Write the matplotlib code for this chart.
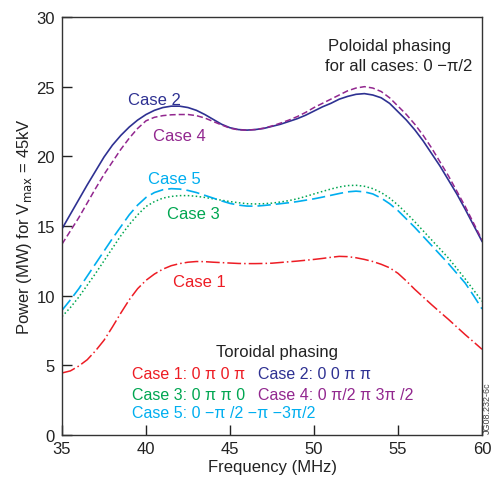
import matplotlib
matplotlib.use("Agg")
import matplotlib.pyplot as plt

plt.rcParams['font.family'] = ['Liberation Sans', 'DejaVu Sans']

freq = [35, 35.5, 36, 36.5, 37, 37.5, 38, 38.5, 39, 39.5, 40, 40.5, 41, 41.5, 42, 42.5,
        43, 43.5, 44, 44.5, 45, 45.5, 46, 46.5, 47, 47.5, 48, 48.5, 49, 49.5, 50, 50.5,
        51, 51.5, 52, 52.5, 53, 53.5, 54, 54.5, 55, 55.5, 56, 56.5, 57, 57.5, 58, 58.5,
        59, 59.5, 60]
case1 = [4.45, 4.6, 4.95, 5.4, 6.05, 6.8, 7.75, 8.75, 9.7, 10.5, 11.1, 11.55, 11.9, 12.15,
         12.3, 12.4, 12.45, 12.44, 12.4, 12.37, 12.34, 12.31, 12.3, 12.3, 12.31, 12.33,
         12.38, 12.43, 12.48, 12.54, 12.6, 12.67, 12.75, 12.82, 12.8, 12.72, 12.6, 12.45,
         12.25, 12.0, 11.6, 11.05, 10.45, 9.9, 9.35, 8.82, 8.3, 7.75, 7.2, 6.68, 6.15]
case2 = [14.8, 15.85, 16.9, 17.95, 18.95, 19.95, 20.8, 21.5, 22.1, 22.6, 23.0, 23.3, 23.5,
         23.6, 23.6, 23.5, 23.3, 23.0, 22.65, 22.3, 22.05, 21.92, 21.88, 21.92, 22.0, 22.15,
         22.3, 22.5, 22.7, 22.95, 23.25, 23.55, 23.8, 24.1, 24.3, 24.45, 24.5, 24.4, 24.2,
         23.8, 23.2, 22.6, 21.9, 21.1, 20.2, 19.3, 18.3, 17.3, 16.2, 15.05, 13.9]
case3 = [8.5, 9.15, 9.9, 10.75, 11.6, 12.5, 13.4, 14.3, 15.1, 15.8, 16.4, 16.75, 17.0, 17.12,
         17.18, 17.18, 17.13, 17.05, 16.95, 16.85, 16.75, 16.67, 16.6, 16.58, 16.6, 16.64,
         16.72, 16.82, 16.95, 17.12, 17.3, 17.48, 17.65, 17.8, 17.9, 17.92, 17.85, 17.68,
         17.4, 17.0, 16.5, 15.92, 15.3, 14.65, 14.0, 13.35, 12.7, 11.95, 11.2, 10.4, 9.6]
case4 = [13.7, 14.65, 15.6, 16.65, 17.7, 18.7, 19.6, 20.5, 21.3, 22.0, 22.55, 22.8, 22.92,
         22.98, 23.0, 23.0, 22.92, 22.75, 22.5, 22.25, 22.02, 21.9, 21.88, 21.92, 22.02,
         22.18, 22.38, 22.6, 22.85, 23.15, 23.5, 23.8, 24.1, 24.4, 24.7, 24.9, 25.0, 24.9,
         24.65, 24.2, 23.6, 23.0, 22.3, 21.5, 20.6, 19.6, 18.6, 17.5, 16.4, 15.2, 14.0]
case5 = [8.95, 9.7, 10.5, 11.4, 12.3, 13.2, 14.1, 14.95, 15.8, 16.5, 17.05, 17.4, 17.6,
         17.68, 17.65, 17.55, 17.4, 17.2, 17.0, 16.8, 16.62, 16.5, 16.43, 16.42, 16.47,
         16.53, 16.6, 16.67, 16.75, 16.85, 16.95, 17.07, 17.2, 17.33, 17.45, 17.5, 17.45,
         17.3, 17.0, 16.6, 16.1, 15.5, 14.9, 14.25, 13.6, 12.95, 12.3, 11.6, 10.9, 10.0, 9.05]

xticks = [35, 40, 45, 50, 55, 60]
yticks = [0, 5, 10, 15, 20, 25, 30]

RED = '#ed1c24'
NAVY = '#2e3192'
GREEN = '#00a651'
PURPLE = '#92278f'
CYAN = '#00aeef'
TXT = '#222222'

fig = plt.figure(figsize=(4.93, 4.81), dpi=100)
ax = fig.add_axes([0.1258, 0.0936, 0.8519, 0.869])

ax.plot(freq, case1, color=RED, lw=1.1, ls=(0, (9, 2, 1, 2)))
ax.plot(freq, case2, color=NAVY, lw=1.2, ls='-')
ax.plot(freq, case3, color=GREEN, lw=1.1, ls=(0, (1, 1.6)))
ax.plot(freq, case4, color=PURPLE, lw=1.1, ls=(0, (4, 2)))
ax.plot(freq, case5, color=CYAN, lw=1.2, ls=(0, (8, 3)))

ax.set_xlim(35, 60)
ax.set_ylim(0, 30)
ax.set_xticks(xticks)
ax.set_yticks(yticks)
ax.tick_params(direction='in', length=7, width=1, labelsize=12, colors=TXT)
ax.tick_params(axis='y', pad=5)
ax.tick_params(axis='x', pad=4.5)
for s in ax.spines.values():
    s.set_color('#333333')
    s.set_linewidth(1.0)

ax.set_xlabel('Frequency (MHz)', fontsize=12, labelpad=2, color=TXT)
ax.set_ylabel('Power (MW) for V$_{\\rm max}$ = 45kV', fontsize=12, labelpad=2, color=TXT)

fs = 12
ax.text(40.5, 24.1, 'Case 2', color=NAVY, fontsize=fs, ha='center', va='center')
ax.text(42.0, 21.5, 'Case 4', color=PURPLE, fontsize=fs, ha='center', va='center')
ax.text(41.7, 18.4, 'Case 5', color=CYAN, fontsize=fs, ha='center', va='center')
ax.text(42.8, 15.9, 'Case 3', color=GREEN, fontsize=fs, ha='center', va='center')
ax.text(43.2, 11.0, 'Case 1', color=RED, fontsize=fs, ha='center', va='center')

ax.text(0.633, 0.931, 'Poloidal phasing', transform=ax.transAxes, fontsize=fs,
        ha='left', va='center', color=TXT)
ax.text(0.626, 0.884, 'for all cases: 0 \u2212\u03c0/2', transform=ax.transAxes, fontsize=fs,
        ha='left', va='center', color=TXT)

lfs = 11.5
ax.text(0.512, 0.199, 'Toroidal phasing', transform=ax.transAxes, fontsize=fs,
        ha='center', va='center', color=TXT)
ax.text(0.167, 0.147, 'Case 1: 0 \u03c0 0 \u03c0', transform=ax.transAxes, fontsize=lfs,
        ha='left', va='center', color=RED)
ax.text(0.466, 0.147, 'Case 2: 0 0 \u03c0 \u03c0', transform=ax.transAxes, fontsize=lfs,
        ha='left', va='center', color=NAVY)
ax.text(0.167, 0.096, 'Case 3: 0 \u03c0 \u03c0 0', transform=ax.transAxes, fontsize=lfs,
        ha='left', va='center', color=GREEN)
ax.text(0.466, 0.096, 'Case 4: 0 \u03c0/2 \u03c0 3\u03c0 /2', transform=ax.transAxes, fontsize=lfs,
        ha='left', va='center', color=PURPLE)
ax.text(0.167, 0.053, 'Case 5: 0 \u2212\u03c0 /2 \u2212\u03c0 \u22123\u03c0/2', transform=ax.transAxes,
        fontsize=lfs, ha='left', va='center', color=CYAN)

fig.text(0.988, 0.152, 'JG08.232-6c', rotation=90, fontsize=6.5, color='#444444',
         ha='center', va='center')

fig.savefig('out.png', dpi=100)
